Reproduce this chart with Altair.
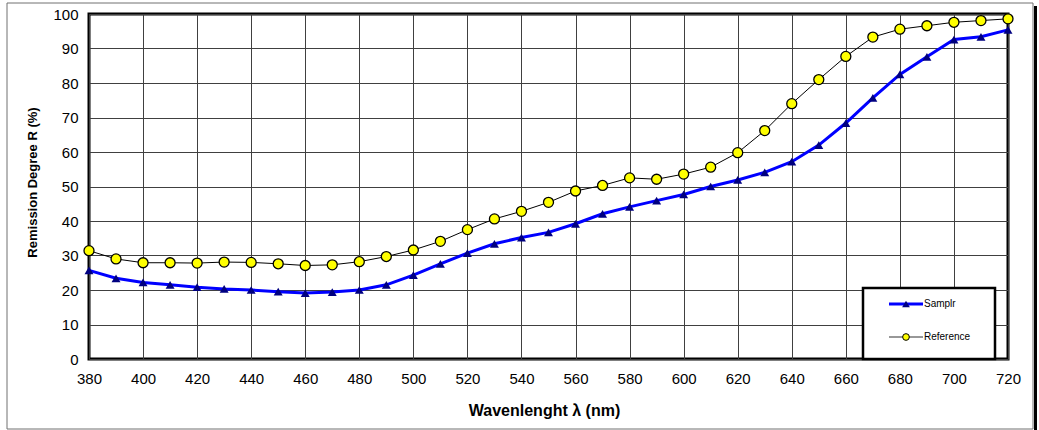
import altair as alt
import pandas as pd

# ---- data ----
wavelength = [380, 390, 400, 410, 420, 430, 440, 450, 460, 470, 480, 490, 500, 510, 520,
              530, 540, 550, 560, 570, 580, 590, 600, 610, 620, 630, 640, 650, 660, 670,
              680, 690, 700, 710, 720]
samplr = [25.7, 23.4, 22.2, 21.5, 20.8, 20.3, 20.0, 19.5, 19.1, 19.4, 20.0, 21.5, 24.3, 27.6, 30.7,
          33.4, 35.2, 36.7, 39.2, 42.1, 44.1, 45.9, 47.7, 50.0, 51.9, 54.1, 57.2, 62.0, 68.4, 75.7,
          82.5, 87.6, 92.6, 93.4, 95.4]
reference = [31.4, 29.0, 27.9, 27.9, 27.8, 28.1, 28.0, 27.6, 27.1, 27.3, 28.2, 29.7, 31.6, 34.1, 37.5,
             40.6, 42.8, 45.4, 48.7, 50.3, 52.5, 52.1, 53.6, 55.6, 59.8, 66.2, 74.0, 81.0, 87.7, 93.3,
             95.6, 96.6, 97.6, 98.1, 98.6]
series_names = ["Samplr", "Reference"]
x_ticks = list(range(380, 721, 20))
y_ticks = list(range(0, 101, 10))

FONT = "Liberation Sans"

df_s = pd.DataFrame({"wl": wavelength, "R": samplr})
df_r = pd.DataFrame({"wl": wavelength, "R": reference})

x_enc = alt.X("wl:Q",
              scale=alt.Scale(domain=[380, 720], nice=False, zero=False),
              axis=alt.Axis(values=x_ticks, title="Wavenlenght λ (nm)", grid=True,
                            gridColor="#404040", gridWidth=1, ticks=False, tickSize=0,
                            domain=False, labelFont=FONT, labelFontSize=15, labelColor="black",
                            labelPadding=12, labelFlush=False, labelOverlap=False,
                            titleFont=FONT, titleFontSize=16, titleFontWeight="bold",
                            titleColor="black", titleX=455, titleY=51,
                            titleBaseline="middle", titleAlign="center"))
y_enc = alt.Y("R:Q",
              scale=alt.Scale(domain=[0, 100], nice=False),
              axis=alt.Axis(values=y_ticks, title="Remission Degree R (%)", grid=True,
                            gridColor="#404040", gridWidth=1, ticks=False, tickSize=0,
                            domain=False, labelFont=FONT, labelFontSize=15, labelColor="black",
                            labelPadding=11, labelFlush=False, labelOverlap=False,
                            titleFont=FONT, titleFontSize=13, titleFontWeight="bold",
                            titleColor="black", titleX=-57, titleY=168, titleAngle=-90,
                            titleBaseline="middle", titleAlign="center"))

line_r = alt.Chart(df_r).mark_line(color="black", strokeWidth=1).encode(x=x_enc, y=y_enc)
pts_r = alt.Chart(df_r).mark_point(shape="circle", filled=True, fill="#FFFF00", stroke="black",
                                   strokeWidth=1.3, size=100, opacity=1).encode(x=x_enc, y=y_enc)
line_s = alt.Chart(df_s).mark_line(color="#0000FF", strokeWidth=3).encode(x=x_enc, y=y_enc)
pts_s = alt.Chart(df_s).mark_point(shape="triangle-up", filled=True, color="#000080",
                                   size=80, opacity=1).encode(x=x_enc, y=y_enc)

one = pd.DataFrame({"k": [0]})

# outer frame and its shadow
frame = alt.Chart(one).mark_rect(fill="white", fillOpacity=0, stroke="#707070", strokeWidth=1).encode(
    x=alt.value(-82), x2=alt.value(944), y=alt.value(-11), y2=alt.value(415))
shadow = alt.Chart(one).mark_rect(fill="black").encode(
    x=alt.value(945), x2=alt.value(948), y=alt.value(-8), y2=alt.value(430))

# legend box
leg_box = alt.Chart(one).mark_rect(fill="white", stroke="black", strokeWidth=2.5).encode(
    x=alt.value(774), x2=alt.value(906), y=alt.value(274), y2=alt.value(345))

leg_df_s = pd.DataFrame({"name": [series_names[0]]})
leg_df_r = pd.DataFrame({"name": [series_names[1]]})

leg_line_s = alt.Chart(leg_df_s).mark_rule(color="#0000FF", strokeWidth=3).encode(
    x=alt.value(800), x2=alt.value(834), y=alt.value(290))
leg_pt_s = alt.Chart(leg_df_s).mark_point(shape="triangle-up", filled=True, color="#000080",
                                          size=60, opacity=1).encode(x=alt.value(817), y=alt.value(290))
leg_txt_s = alt.Chart(leg_df_s).mark_text(align="left", baseline="middle", font=FONT, fontSize=10,
                                          color="black").encode(x=alt.value(835), y=alt.value(290),
                                                                text="name:N")
leg_line_r = alt.Chart(leg_df_r).mark_rule(color="#333333", strokeWidth=1.2).encode(
    x=alt.value(800), x2=alt.value(834), y=alt.value(323))
leg_pt_r = alt.Chart(leg_df_r).mark_point(shape="circle", filled=True, fill="#FFFF00", stroke="black",
                                          strokeWidth=1, size=45, opacity=1).encode(x=alt.value(817),
                                                                                    y=alt.value(323))
leg_txt_r = alt.Chart(leg_df_r).mark_text(align="left", baseline="middle", font=FONT, fontSize=10,
                                          color="black").encode(x=alt.value(835), y=alt.value(323),
                                                                text="name:N")

chart = alt.layer(
    frame, shadow, line_r, line_s, pts_s, pts_r,
    leg_box, leg_line_s, leg_pt_s, leg_txt_s, leg_line_r, leg_pt_r, leg_txt_r
).properties(
    width=919, height=345,
    autosize=alt.AutoSizeParams(type="none"),
    padding={"left": 89, "top": 14, "right": 31, "bottom": 71},
    background="white",
).configure_view(
    stroke="black", strokeWidth=3
)

chart.save("out.html", embed_options={"renderer": "svg", "actions": False})
